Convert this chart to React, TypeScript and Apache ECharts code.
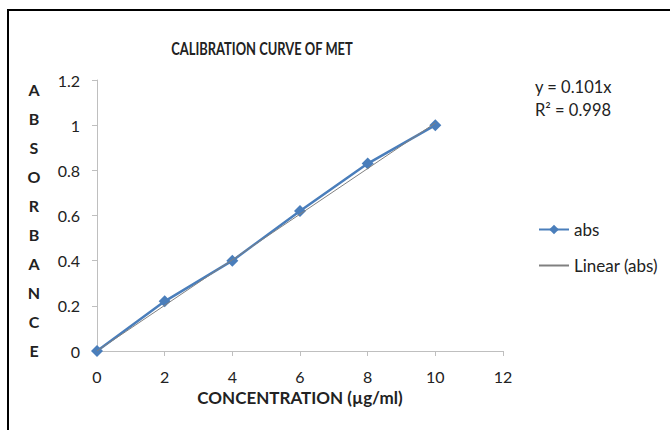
import React, { useEffect, useRef } from "react";
import * as echarts from "echarts";

const concentration = [0, 2, 4, 6, 8, 10];
const absorbance = [0, 0.22, 0.4, 0.62, 0.83, 1.0];
const trendX = [0, 10];
const trendY = [0, 1.01];
const xTicks = [0, 2, 4, 6, 8, 10, 12];
const yTicks = [0, 0.2, 0.4, 0.6, 0.8, 1, 1.2];
const yTitleLetters = ["A", "B", "S", "O", "R", "B", "A", "N", "C", "E"];
const equationLines = ["y = 0.101x", "R² = 0.998"];

const FONT = "Lato, 'Open Sans', sans-serif";

export default function App() {
  const ref = useRef<HTMLDivElement>(null);
  useEffect(() => {
    if (!ref.current) return;
    const chart = echarts.init(ref.current, undefined, { renderer: "svg" });
    chart.setOption({
      animation: false,
      backgroundColor: "#fff",
      textStyle: { fontFamily: FONT },
      grid: { left: 97, right: 167, top: 80, bottom: 79, containLabel: false },
      xAxis: {
        type: "value",
        min: xTicks[0],
        max: xTicks[xTicks.length - 1],
        interval: 2,
        name: "CONCENTRATION (µg/ml)",
        nameLocation: "middle",
        nameGap: 35,
        nameTextStyle: { fontFamily: FONT, fontSize: 17, fontWeight: "bold", color: "#222" },
        axisLine: { show: true, lineStyle: { color: "#bfbfbf", width: 1 } },
        axisTick: { show: true, length: 5, lineStyle: { color: "#bfbfbf" } },
        axisLabel: { fontFamily: FONT, fontSize: 16, color: "#222", margin: 17 },
        splitLine: { show: false },
      },
      yAxis: {
        type: "value",
        min: yTicks[0],
        max: yTicks[yTicks.length - 1],
        interval: 0.2,
        axisLine: { show: true, lineStyle: { color: "#bfbfbf", width: 1 } },
        axisTick: { show: true, length: 5, lineStyle: { color: "#bfbfbf" } },
        axisLabel: { fontFamily: FONT, fontSize: 16, color: "#222", margin: 17 },
        splitLine: { show: false },
      },
      legend: {
        orient: "vertical",
        left: 533,
        top: 216,
        itemGap: 19,
        itemWidth: 30,
        itemHeight: 12,
        textStyle: { fontFamily: FONT, fontSize: 17, color: "#222" },
        data: [
          { name: "abs" },
          { name: "Linear (abs)", itemStyle: { opacity: 0 } },
        ],
      },
      series: [
        {
          name: "abs",
          type: "line",
          data: concentration.map((x, i) => [x, absorbance[i]]),
          symbol: "diamond",
          symbolSize: 12,
          lineStyle: { color: "#4A7EBB", width: 2.5 },
          itemStyle: { color: "#4A7EBB" },
          z: 2,
        },
        {
          name: "Linear (abs)",
          type: "line",
          data: trendX.map((x, i) => [x, trendY[i]]),
          symbol: "none",
          lineStyle: { color: "#808080", width: 1 },
          itemStyle: { color: "#808080" },
          z: 3,
        },
      ],
      graphic: [
        {
          type: "rect",
          shape: { x: 8, y: 10, width: 700, height: 460 },
          style: { fill: "none", stroke: "#000", lineWidth: 2 },
          silent: true,
        },
        {
          type: "text",
          x: 262,
          y: 48,
          scaleX: 0.76,
          style: {
            text: "CALIBRATION CURVE OF MET",
            fontFamily: FONT,
            fontSize: 17,
            fontWeight: "bold",
            fill: "#222",
            align: "center",
            verticalAlign: "middle",
          },
        },
        {
          type: "text",
          x: 34,
          y: 75,
          style: {
            text: yTitleLetters.join("\n"),
            fontFamily: FONT,
            fontSize: 16,
            fontWeight: "bold",
            lineHeight: 29,
            fill: "#222",
            align: "center",
            verticalAlign: "top",
          },
        },
        {
          type: "text",
          x: 535,
          y: 75,
          style: {
            text: equationLines.join("\n"),
            fontFamily: FONT,
            fontSize: 16.5,
            lineHeight: 23,
            fill: "#222",
            align: "left",
            verticalAlign: "top",
          },
        },
      ],
    });
    return () => chart.dispose();
  }, []);
  return (
    <div
      ref={ref}
      style={{ position: "fixed", left: 0, top: 0, width: 670, height: 430 }}
    />
  );
}
